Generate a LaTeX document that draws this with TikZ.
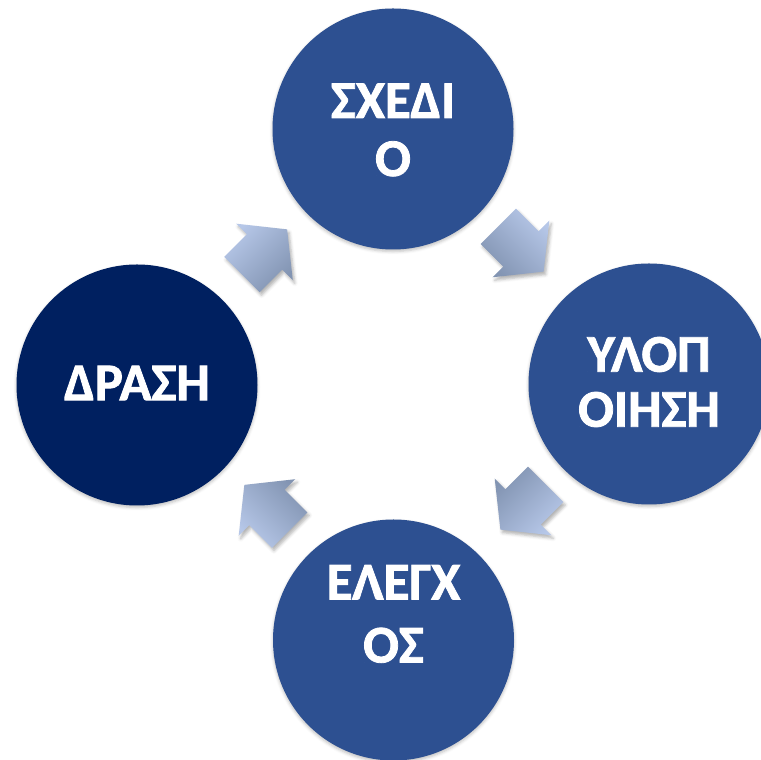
\documentclass[tikz,border=0pt]{standalone}
\usepackage{fontspec}
\setmainfont{Carlito}[BoldFont={Carlito Bold},BoldFeatures={FakeBold=1.5}]
\usetikzlibrary{shadows.blur}
\definecolor{circblue}{RGB}{45,80,145}
\definecolor{circdark}{RGB}{0,32,96}
\definecolor{arrlight}{RGB}{182,199,232}
\definecolor{arrdark}{RGB}{130,148,178}
\tikzset{
  x=1pt,y=1pt,
  circ/.style={circle,minimum size=241pt,inner sep=0pt,fill=circblue,
    blur shadow={shadow xshift=0pt,shadow yshift=-2pt,shadow blur radius=3pt,shadow opacity=25}},
  lbl/.style={text=white,align=center,font=\bfseries\fontsize{53}{58}\selectfont,inner sep=0pt},
  blockarrow/.pic={
    \path[pic actions,blur shadow={shadow xshift=2pt,shadow yshift=-3pt,shadow blur radius=3pt,shadow opacity=30}]
      (-32,25) -- (0,25) -- (0,40) -- (32,0) -- (0,-40) -- (0,-25) -- (-32,-25) -- cycle;
  }
}
\begin{document}
\begin{tikzpicture}
\useasboundingbox (0,0) rectangle (761,760);
\clip (0,0) rectangle (761,760);
% circles
\node[circ] (plan) at (393,631) {};
\node[circ] (impl) at (649,376) {};
\node[circ] (check) at (393.5,120) {};
\node[circ,fill=circdark] (act) at (137,375) {};
% labels
\node[lbl] (tplan) at ([yshift=-1pt]plan.center) {ΣΧΕΔΙ\\Ο};
\node[lbl,font=\bfseries\fontsize{53}{55}\selectfont] (timpl) at ([yshift=2pt]impl.center) {ΥΛΟΠ\\ΟΙΗΣΗ};
\node[lbl,font=\bfseries\fontsize{53}{63}\selectfont] (tcheck) at ([yshift=26pt]check.center) {ΕΛΕΓΧ\\ΟΣ};
\node[lbl] (tact) at ([yshift=2pt]act.center) {ΔΡΑΣΗ};
% arrows
\pic[rotate=45,top color=arrlight,bottom color=arrdark,shading angle=45] at (264.5,508) {blockarrow};
\pic[rotate=-45,top color=arrlight,bottom color=arrdark,shading angle=-45] at (521,511) {blockarrow};
\pic[rotate=-135,top color=arrlight,bottom color=arrdark,shading angle=-135] at (523,253) {blockarrow};
\pic[rotate=135,top color=arrlight,bottom color=arrdark,shading angle=135] at (267,252.5) {blockarrow};
\end{tikzpicture}
\end{document}
